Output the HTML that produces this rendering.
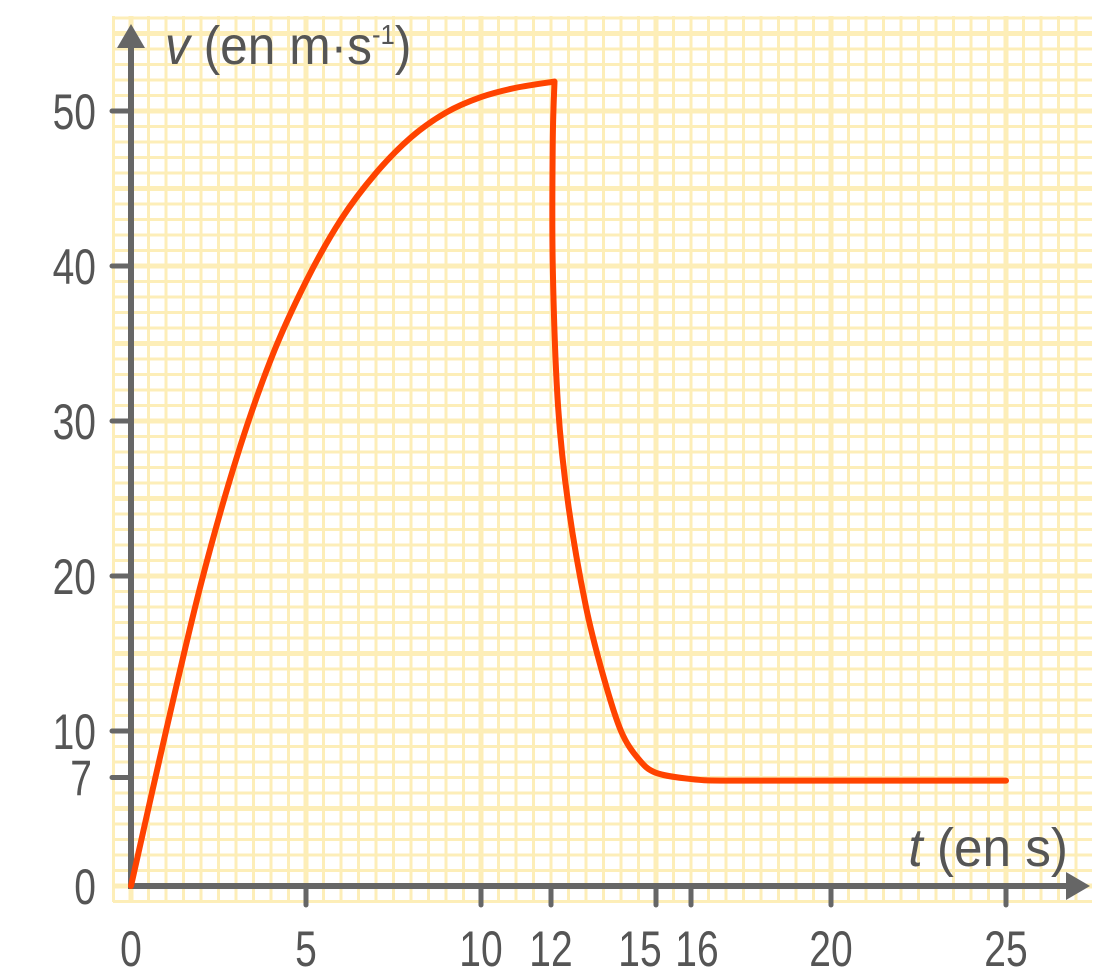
<!DOCTYPE html>
<html><head><meta charset="utf-8">
<style>
html,body{margin:0;padding:0;background:#fff;}
svg{display:block;}
text{font-family:"Liberation Sans","DejaVu Sans",sans-serif;fill:#555;}
</style></head>
<body>
<svg id="chart" width="1111" height="973" viewBox="0 0 1111 973">
<g id="grid"></g>
<g id="axes"></g>
<g id="plot"></g>
<g id="labels"></g>
</svg>
<script>
const riseT = [0, 1, 2, 3, 4, 5, 6, 7, 8, 9, 10, 11, 12.1];
const riseV = [0, 10, 19.5, 27.5, 34, 39, 43, 46, 48.3, 49.9, 50.9, 51.5, 51.9];
const fallT = [12.1, 12.05, 12.05, 12.2, 12.5, 13, 13.5, 14, 14.5, 15, 16, 17, 20, 25];
const fallV = [51.9, 48, 40, 31, 24.5, 18, 13.5, 10, 8.2, 7.3, 6.9, 6.8, 6.8, 6.8];
const xTicks = [0, 5, 10, 12, 15, 16, 20, 25];
const xLabelShift = {15: -16, 16: 6};
const yTicks = [0, 7, 10, 20, 30, 40, 50];

const NS = "http://www.w3.org/2000/svg";
const X0 = 131, XS = 35, Y0 = 886, YS = 15.5;
const sx = t => X0 + t * XS;
const sy = v => Y0 - v * YS;
function mk(tag, attrs, parent){
  const e = document.createElementNS(NS, tag);
  for (const k in attrs) e.setAttribute(k, attrs[k]);
  parent.appendChild(e); return e;
}
const grid = document.getElementById('grid');
const axes = document.getElementById('axes');
const plot = document.getElementById('plot');
const labels = document.getElementById('labels');

for (let i = -1; i <= 54; i++) {
  const t = i * 0.5, x = sx(t);
  if (x > 1092) break;
  const major = (i % 10 === 0);
  const l = mk('line', {x1:x, y1:16, x2:x, y2:902, stroke:'#fdeeb8', 'stroke-width': major ? 5 : 3}, grid);
  
  
}
for (let i = -1; i <= 56; i++) {
  const y = sy(i);
  if (y < 14) break;
  const major = (i % 5 === 0);
  const l = mk('line', {x1:113, y1:y, x2:1092, y2:y, stroke:'#fdeeb8', 'stroke-width': major ? 5 : 3}, grid);
  
  
}

const ax = mk('line', {x1:128, y1:Y0, x2:1075, y2:Y0, stroke:'#666', 'stroke-width':6}, axes);


const axh = mk('polygon', {points:'1066,872 1090,886 1066,900', fill:'#666'}, axes);


const ay = mk('line', {x1:X0, y1:889, x2:X0, y2:40, stroke:'#666', 'stroke-width':6}, axes);


const ayh = mk('polygon', {points:'117,48 131,24 145,48', fill:'#666'}, axes);



xTicks.forEach(t => {
  const x = sx(t);
  if (t !== 0) {
    const tk = mk('line', {x1:x, y1:Y0, x2:x, y2:905, stroke:'#666', 'stroke-width':5, 'stroke-linecap':'round'}, axes);
    
    
  }
  const lx = x + (xLabelShift[t] || 0);
  const tx = mk('text', {x:0, y:0, 'font-size':50, 'text-anchor':'middle', transform:`translate(${lx},966) scale(0.78,1)`}, labels);
  tx.textContent = t;
  
  
});
yTicks.forEach(v => {
  const y = sy(v);
  if (v !== 0) {
    const tk = mk('line', {x1:112, y1:y, x2:X0, y2:y, stroke:'#666', 'stroke-width':5, 'stroke-linecap':'round'}, axes);
    
    
  }
  const ty = mk('text', {x:0, y:0, 'font-size':50, 'text-anchor':'end', transform:`translate(${v === 7 ? 92 : 96},${y + 18}) scale(0.78,1)`}, labels);
  ty.textContent = v;
  
  
});

const yt = mk('text', {x:0, y:0, 'font-size':54, transform:'translate(165,64) scale(0.92,1)'}, labels);
yt.innerHTML = '<tspan font-style="italic">v</tspan> (en m·s<tspan font-size="28" dy="-20">-1</tspan><tspan dy="20">)</tspan>';


const xt = mk('text', {x:0, y:0, 'font-size':54, 'text-anchor':'end', transform:'translate(1068,866) scale(0.95,1)'}, labels);
xt.innerHTML = '<tspan font-style="italic">t</tspan> (en s)';



function pathFrom(T, V, move) {
  const p = T.map((t, i) => [sx(t), sy(V[i])]);
  let d = move ? `M${p[0][0]},${p[0][1]}` : '';
  for (let i = 0; i < p.length - 1; i++) {
    const p0 = p[i - 1] || p[i], p1 = p[i], p2 = p[i + 1], p3 = p[i + 2] || p2;
    const c1 = [p1[0] + (p2[0] - p0[0]) / 6, p1[1] + (p2[1] - p0[1]) / 6];
    const c2 = [p2[0] - (p3[0] - p1[0]) / 6, p2[1] - (p3[1] - p1[1]) / 6];
    d += ` C${c1[0]},${c1[1]} ${c2[0]},${c2[1]} ${p2[0]},${p2[1]}`;
  }
  return d;
}
const d = pathFrom(riseT, riseV, true) + pathFrom(fallT, fallV, false);
const curve = mk('path', {d:d, fill:'none', stroke:'#ff4300', 'stroke-width':6, 'stroke-linejoin':'round', 'stroke-linecap':'round'}, plot);


</script>
</body></html>
